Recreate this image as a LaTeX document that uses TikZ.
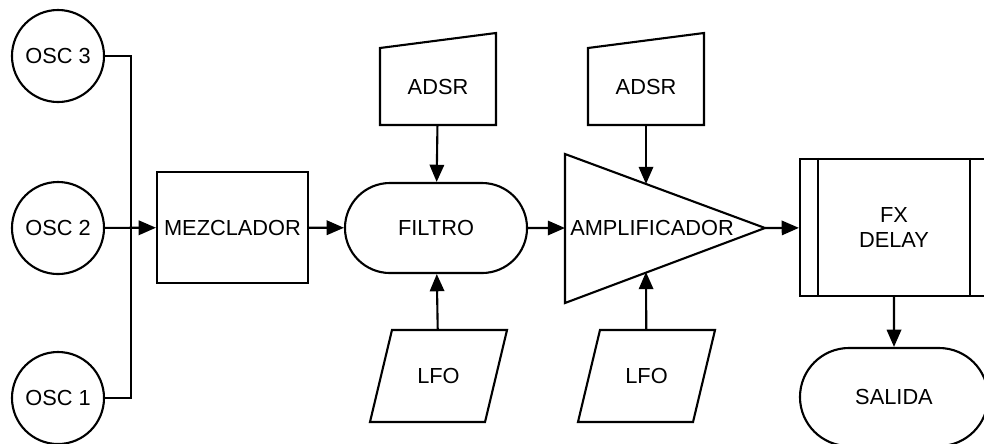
\documentclass[tikz,border=0pt]{standalone}
\usepackage{fontspec}
\setmainfont{Liberation Sans}
\usepackage{tikz}
\usetikzlibrary{shapes,positioning,calc,arrows.meta}
\tikzset{blk/.style={draw,line width=1.5pt,font=\fontsize{15.5}{18}\selectfont,inner sep=0pt},
         osc/.style={blk,circle,minimum size=2.3cm},
         caja/.style={blk,rectangle,minimum width=3.775cm,minimum height=2.775cm},
         pill/.style={blk,rounded rectangle,minimum width=4.55cm,minimum height=2.25cm},
         hueco/.style={font=\fontsize{15.5}{18}\selectfont,inner sep=0pt,outer sep=0pt},
         lin/.style={line width=1.5pt}}

\begin{document}
\begin{tikzpicture}[>={Triangle[length=4.3mm,width=3.6mm]},x=0.025cm,y=-0.025cm]
        \clip (0,0) rectangle (984,443);
        \node[osc] (osc3) at (58,56) {OSC 3};
        \node[osc] (osc2) at (58,228) {OSC 2};
        \node[osc] (osc1) at (58,398) {OSC 1};
        \coordinate (bus) at (131,228);
        \node[caja] (mez) at (232.5,227.5) {MEZCLADOR};
        \node[pill] (filtro) at (436,228) {FILTRO};
        \node[hueco,minimum width=2.9cm,minimum height=1.925cm] (adsr1) at (438,86.5) {ADSR};
        \node[hueco,minimum width=2.9cm,minimum height=1.925cm] (adsr2) at (646,86.5) {ADSR};
        \node[hueco,minimum width=3.425cm,minimum height=2.3cm] (lfo1) at (438.5,376) {LFO};
        \node[hueco,minimum width=3.425cm,minimum height=2.3cm] (lfo2) at (646.5,376) {LFO};
        \node[hueco] (amp) at (652,228) {AMPLIFICADOR};
        \coordinate (amp-in) at (565,228);
        \coordinate (amp-out) at (765,228);
        \coordinate (amp-top) at (646,184);
        \coordinate (amp-bot) at (646,272);
        \node[blk,rectangle,minimum width=4.7cm,minimum height=3.425cm,align=center] (fx) at (894,227.5) {FX\\DELAY};
        \node[pill,minimum width=4.7cm,minimum height=2.45cm] (salida) at (894,397) {SALIDA};

        % formas dibujadas a mano
        \draw [lin] (adsr1.south west) -- (adsr1.north west) -- ($(adsr1.north east)+(0,-15)$) -- (adsr1.south east) -- cycle;
        \draw [lin] (adsr2.south west) -- (adsr2.north west) -- ($(adsr2.north east)+(0,-15)$) -- (adsr2.south east) -- cycle;
        \draw [lin] ($(lfo1.north west)+(22,0)$) -- (lfo1.north east) -- ($(lfo1.south east)+(-22,0)$) -- (lfo1.south west) -- cycle;
        \draw [lin] ($(lfo2.north west)+(22,0)$) -- (lfo2.north east) -- ($(lfo2.south east)+(-22,0)$) -- (lfo2.south west) -- cycle;
        \draw [lin] (565,154) -- (amp-out) -- (565,303) -- cycle;
        \draw [lin] ($(fx.north west)+(19,0)$) -- ($(fx.south west)+(19,0)$);
        \draw [lin] ($(fx.north east)+(-19,0)$) -- ($(fx.south east)+(-19,0)$);

        \draw [lin] (osc3) -| (bus);
        \draw [lin] (osc1) -| (bus);
        \draw [lin,->] (osc2) to [] (mez);
        \draw [lin,->] (mez) to [] (filtro);
        \draw [lin,->] (adsr1) to [] (filtro);
        \draw [lin,->] (lfo1) to [] (filtro);
        \draw [lin,->] (filtro) to [] (amp-in);
        \draw [lin,->] (adsr2) to [] (amp-top);
        \draw [lin,->] (lfo2) to [] (amp-bot);
        \draw [lin,->] (amp-out) to [] (fx);
        \draw [lin,->] (fx) to [] (salida);
    \end{tikzpicture}
\end{document}
